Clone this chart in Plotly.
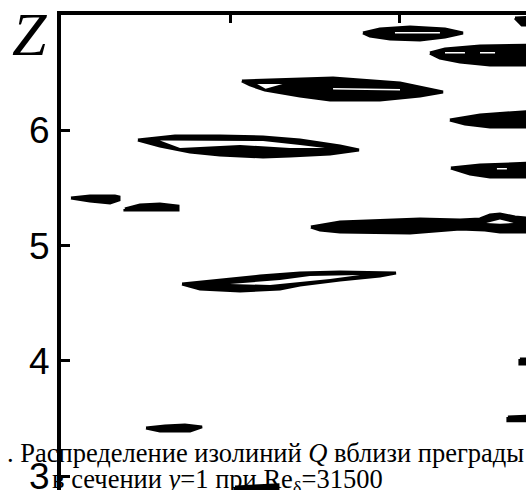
import plotly.graph_objects as go

# Isolines of Q in the section y = 1 (x in arbitrary streamwise units, Z spanwise).
# Each region is an outline (x list, Z list) of a closed isoline; holes are inner isolines.
q_regions = [
    # top strip, z ~ 6.85
    ([1.786, 1.886, 2.064, 2.271, 2.377, 2.271, 2.123, 1.946, 1.827],
     [6.844, 6.879, 6.896, 6.879, 6.844, 6.809, 6.783, 6.792, 6.818]),
    # z ~ 6.65, running off the right edge
    ([2.182, 2.271, 2.478, 2.803, 2.803, 2.537, 2.360, 2.241],
     [6.670, 6.705, 6.731, 6.740, 6.566, 6.566, 6.592, 6.627]),
    # z ~ 6.35
    ([1.070, 1.413, 1.609, 2.005, 2.259, 2.123, 1.886, 1.591, 1.413, 1.206, 1.118],
     [6.428, 6.445, 6.454, 6.410, 6.332, 6.297, 6.263, 6.263, 6.297, 6.350, 6.393]),
    # z ~ 6.1, right edge
    ([2.300, 2.478, 2.803, 2.803, 2.537, 2.389],
     [6.089, 6.133, 6.167, 6.029, 6.029, 6.055]),
    # z ~ 5.85
    ([0.455, 0.674, 0.940, 1.195, 1.413, 1.650, 1.762, 1.591, 1.354, 1.195, 0.940, 0.763, 0.585],
     [5.916, 5.951, 5.951, 5.942, 5.916, 5.864, 5.829, 5.794, 5.777, 5.768, 5.786, 5.812, 5.864]),
    # z ~ 5.65, right edge
    ([2.306, 2.478, 2.803, 2.803, 2.537, 2.419],
     [5.673, 5.699, 5.716, 5.595, 5.595, 5.621]),
    # small pieces near the left wall
    ([0.059, 0.171, 0.319, 0.343, 0.343, 0.290, 0.171],
     [5.413, 5.430, 5.430, 5.422, 5.396, 5.370, 5.387]),
    ([0.378, 0.467, 0.585, 0.692, 0.692, 0.378],
     [5.317, 5.352, 5.361, 5.343, 5.309, 5.309]),
    # z ~ 5.17
    ([1.478, 1.650, 2.123, 2.360, 2.478, 2.537, 2.596, 2.685, 2.803, 2.803, 2.596, 2.507, 2.360, 2.064, 1.650, 1.532],
     [5.161, 5.205, 5.231, 5.222, 5.231, 5.265, 5.274, 5.248, 5.231, 5.118, 5.118, 5.135, 5.144, 5.109, 5.118, 5.135]),
    # z ~ 4.7
    ([0.716, 0.940, 1.177, 1.413, 1.650, 1.981, 1.886, 1.650, 1.413, 1.295, 1.059, 0.822],
     [4.667, 4.701, 4.736, 4.762, 4.771, 4.762, 4.736, 4.701, 4.658, 4.624, 4.606, 4.624]),
    # z ~ 3.42
    ([0.503, 0.615, 0.733, 0.834, 0.763, 0.585],
     [3.418, 3.436, 3.444, 3.427, 3.392, 3.392]),
    # fragments at the right edge and bottom
    ([2.714, 2.803, 2.803, 2.714], [4.016, 4.016, 3.973, 3.973]),
    ([2.643, 2.803, 2.803, 2.643], [3.513, 3.522, 3.480, 3.480]),
    ([1.029, 1.283, 1.283, 1.029], [2.906, 2.924, 2.837, 2.837]),
    ([2.685, 2.803, 2.803, 2.726], [6.974, 6.983, 6.913, 6.913]),
]

# inner isolines (enclosed lower-Q pockets)
q_holes = [
    ([1.975, 2.241, 2.241, 1.975], [6.853, 6.853, 6.840, 6.840]),
    ([2.271, 2.389, 2.389, 2.271], [6.679, 6.679, 6.666, 6.666]),
    ([2.478, 2.567, 2.567, 2.478], [6.679, 6.679, 6.666, 6.666]),
    ([1.160, 1.310, 1.210], [6.401, 6.401, 6.360]),
    ([1.609, 2.005, 2.005, 1.609], [6.367, 6.358, 6.345, 6.354]),
    ([0.585, 1.195, 1.413, 1.561, 1.354, 1.059, 0.704],
     [5.912, 5.907, 5.873, 5.846, 5.846, 5.873, 5.846]),
    ([2.578, 2.637, 2.637, 2.578], [5.673, 5.673, 5.660, 5.660]),
    ([2.515, 2.596, 2.677, 2.596], [5.196, 5.226, 5.196, 5.190]),
    ([0.999, 1.295, 1.472, 1.768, 1.591, 1.236],
     [4.667, 4.701, 4.736, 4.745, 4.710, 4.658]),
]

z_ticks = [3, 4, 5, 6]
x_ticks = [1, 2]
x_range = [0, 2.75]
z_range = [2.88, 7.0]

fig = go.Figure()
for xs, zs in q_regions:
    fig.add_trace(go.Scatter(x=xs + xs[:1], y=zs + zs[:1], mode="lines", fill="toself",
                             fillcolor="black", line=dict(color="black", width=3),
                             hoverinfo="skip", showlegend=False))
for xs, zs in q_holes:
    fig.add_trace(go.Scatter(x=xs + xs[:1], y=zs + zs[:1], mode="lines", fill="toself",
                             fillcolor="white", line=dict(color="white", width=0),
                             hoverinfo="skip", showlegend=False))

fig.update_xaxes(range=x_range, side="top", tickvals=x_ticks, ticks="inside", ticklen=8,
                 tickwidth=3, tickcolor="black", showticklabels=False, showline=True,
                 linewidth=4, linecolor="black", showgrid=False, zeroline=False,
                 automargin=False)
fig.update_yaxes(range=z_range, tickvals=z_ticks, ticks="inside", ticklen=9, tickwidth=3,
                 tickcolor="black", showline=True, linewidth=4, linecolor="black",
                 showgrid=False, zeroline=False, ticklabeloverflow="allow", automargin=False,
                 tickfont=dict(family="Liberation Sans", size=37, color="black"))

caption_font = dict(family="Liberation Serif", size=26.5, color="black")
fig.add_annotation(x=(29 - 61) / 465, y=1 - (34 - 15) / 475, xref="paper", yref="paper",
                   text="<i>Z</i>", showarrow=False, xanchor="center", yanchor="middle",
                   font=dict(family="Liberation Serif", size=62, color="black"))
fig.add_annotation(x=-0.12, y=(490 - 453) / 475, xref="paper", yref="paper", xanchor="left",
                   yanchor="middle", showarrow=False, font=caption_font,
                   text=". Распределение изолиний <i>Q</i> вблизи преграды")
fig.add_annotation(x=(50 - 61) / 465, y=(490 - 481) / 475, xref="paper", yref="paper",
                   xanchor="left", yanchor="middle", showarrow=False, font=caption_font,
                   text="в сечении <i>y</i>=1 при Re<sub>δ</sub>=31500")

fig.update_layout(width=526, height=490, margin=dict(l=61, r=0, t=15, b=0),
                  plot_bgcolor="white", paper_bgcolor="white")
fig.write_html("out.html")
